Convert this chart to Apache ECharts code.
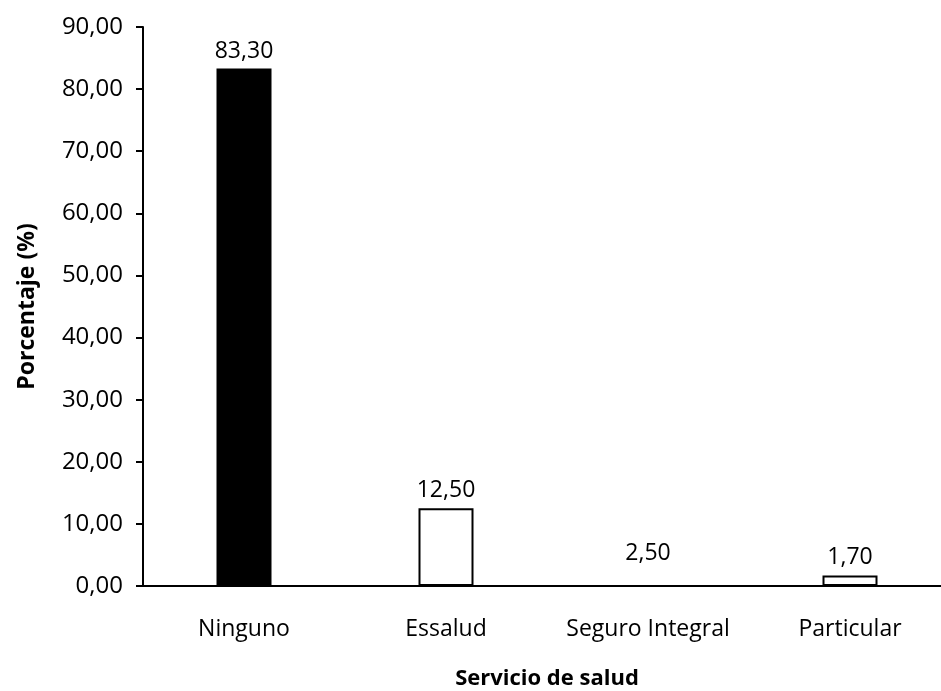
<!DOCTYPE html>
<html>
<head>
<meta charset="utf-8">
<script src="https://cdn.jsdelivr.net/npm/echarts@6/dist/echarts.min.js"></script>
<style>
html,body{margin:0;padding:0;background:#fff;}
#chart{width:941px;height:691px;}
</style>
</head>
<body>
<div id="chart"></div>
<script>
const categories = ['Ninguno', 'Essalud', 'Seguro Integral', 'Particular'];
const values = [83.30, 12.50, 2.50, 1.70];
const fills = ['#000000', '#ffffff', 'transparent', '#ffffff'];
const borders = ['#000000', '#000000', 'transparent', '#000000'];
const yAxisTitle = 'Porcentaje (%)';
const xAxisTitle = 'Servicio de salud';

const fmt = v => Number(v).toFixed(2).replace('.', ',');
const FONT = 'Open Sans';

const chart = echarts.init(document.getElementById('chart'), null, {renderer: 'canvas'});
chart.setOption({
  backgroundColor: '#ffffff',
  animation: false,
  grid: {left: 143, top: 27, bottom: 105, width: 808, containLabel: false, outerBoundsMode: 'none'},
  xAxis: {
    type: 'category',
    data: categories,
    axisLine: {lineStyle: {color: '#000', width: 2}},
    axisTick: {show: false},
    axisLabel: {color: '#000', fontFamily: FONT, fontSize: 23, margin: 32, interval: 0},
    name: xAxisTitle,
    nameLocation: 'middle',
    nameGap: 82,
    nameTextStyle: {color: '#000', fontFamily: FONT, fontSize: 22, fontWeight: 'bold'}
  },
  yAxis: {
    type: 'value',
    min: 0, max: 90, interval: 10,
    axisLine: {show: true, lineStyle: {color: '#000', width: 2}},
    axisTick: {show: true, inside: false, length: 7, lineStyle: {color: '#000', width: 2}},
    splitLine: {show: false},
    axisLabel: {color: '#000', fontFamily: FONT, fontSize: 24, margin: 20, formatter: fmt},
    name: yAxisTitle,
    nameLocation: 'middle',
    nameGap: 104,
    nameRotate: 90,
    nameTextStyle: {color: '#000', fontFamily: FONT, fontSize: 23, fontWeight: 'bold'}
  },
  series: [{
    type: 'bar',
    barWidth: 55,
    data: values.map((v, i) => ({
      value: v,
      itemStyle: {color: fills[i], borderColor: borders[i], borderWidth: 2}
    })),
    label: {
      show: true,
      position: 'top',
      distance: 6,
      color: '#000',
      fontFamily: FONT,
      fontSize: 23,
      formatter: p => fmt(p.value)
    }
  }]
});
</script>
</body>
</html>
